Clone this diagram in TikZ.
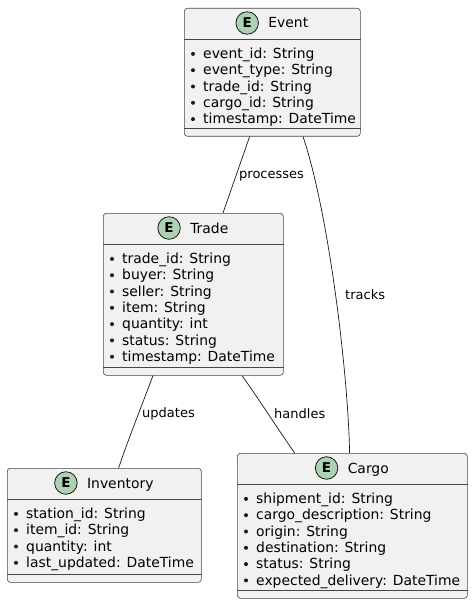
\documentclass[tikz,border=0pt]{standalone}
\usepackage{fontspec}
\setmainfont{DejaVu Sans}
\usetikzlibrary{calc}
\definecolor{boxfill}{HTML}{F1F1F1}
\definecolor{boxline}{HTML}{181818}
\definecolor{circfill}{HTML}{ADD1B2}
\tikzset{
  ebox/.style={draw=boxline!80, fill=boxfill, line width=0.6pt, rounded corners=3pt, inner sep=0pt},
  ebord/.style={draw=boxline!80, line width=0.6pt},
  etitle/.style={inner sep=0pt, font=\fontsize{13.9}{16}\selectfont},
  ecirc/.style={circle, draw=boxline, fill=circfill, line width=0.8pt, minimum size=22.5pt, inner sep=0pt, font=\fontsize{13.5}{14}\selectfont\bfseries},
  attr/.style={inner sep=0pt, font=\fontsize{13.9}{16}\selectfont},
  edge/.style={draw=boxline, line width=0.7pt},
  elabel/.style={inner sep=0pt, font=\fontsize{13}{15}\selectfont}
}
\newcommand\entbox[6]{%
  \node[ebox, minimum width={(#4-#2)*1pt}, minimum height={(#5-#3)*1pt}, anchor=north west] (#1) at (#2,#3) {};
  \draw[ebord] ([yshift=-31pt]#1.north west) -- ([yshift=-31pt]#1.north east);
  \draw[ebord] ([yshift=8pt]#1.south west) -- ([yshift=8pt]#1.south east);
  \node[etitle, anchor=base] (#1-t) at ([xshift=16pt,yshift=-20pt]#1.north) {#6};
  \node[ecirc] (#1-c) at ($(#1-t.west |- #1.north)+(-21,15)$) {E};
}
\newcommand\entattrs[2]{%
  \foreach \a [count=\i] in {#2} {
    \node[attr, anchor=base west] (#1-a\i) at ($(#1.north west)+(19,{50.5+(\i-1)*16.3})$) {\a};
    \fill[boxline] ($(#1-a\i.base west)+(-10,-4.6)$) circle (2pt);
  }
}
\begin{document}
\begin{tikzpicture}[x=1pt,y=-1pt]
\useasboundingbox (0,0) rectangle (473,604);
\entbox{event}{184}{8}{360}{136}{Event}
\entattrs{event}{event\_id: String, event\_type: String, trade\_id: String, cargo\_id: String, timestamp: DateTime}
\entbox{trade}{103}{213}{283}{375}{Trade}
\entattrs{trade}{trade\_id: String, buyer: String, seller: String, item: String, quantity: int, status: String, timestamp: DateTime}
\entbox{inventory}{7}{468}{201}{582}{Inventory}
\entattrs{inventory}{station\_id: String, item\_id: String, quantity: int, last\_updated: DateTime}
\entbox{cargo}{237}{453}{467}{598}{Cargo}
\entattrs{cargo}{shipment\_id: String, cargo\_description: String, origin: String, destination: String, status: String, expected\_delivery: DateTime}

\draw[edge] ([xshift=-22.7pt]event.south) -- ([xshift=29.7pt]trade.north);
\node[elabel, anchor=west] (lproc) at (239,176) {processes};
\draw[edge] ([xshift=30.7pt]event.south) .. controls (328,210) and (348,370) .. ([xshift=-2.7pt]cargo.north);
\node[elabel, anchor=west] (ltrack) at (345,295) {tracks};
\draw[edge] ([xshift=-40.3pt]trade.south) .. controls (142,405) and (128,440) .. ([xshift=14.3pt]inventory.north);
\node[elabel, anchor=west] (lupd) at (142,414) {updates};
\draw[edge] ([xshift=48.7pt]trade.south) .. controls (256,395) and (282,435) .. ([xshift=-57.7pt]cargo.north);
\node[elabel, anchor=west] (lhand) at (274,414) {handles};
\end{tikzpicture}
\end{document}
